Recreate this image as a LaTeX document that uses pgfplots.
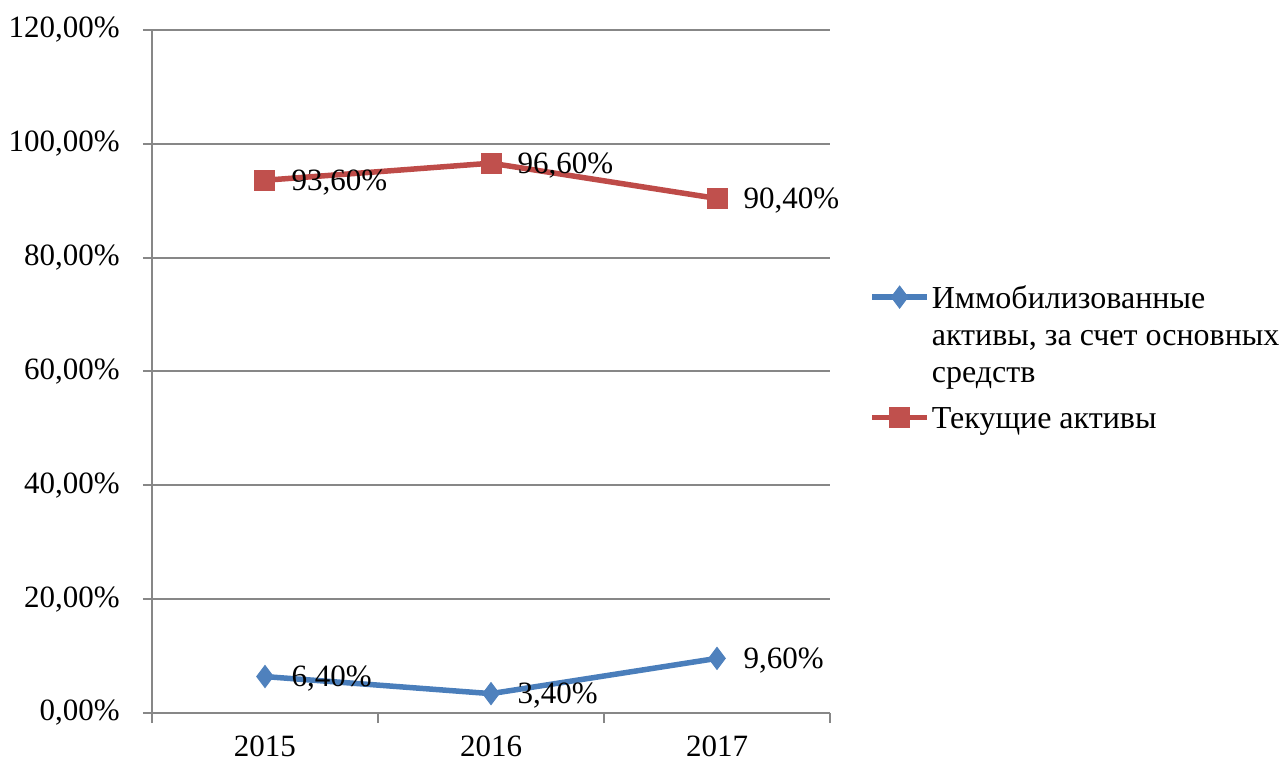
\documentclass[border=0pt]{standalone}
\usepackage{fontspec}
\setmainfont{Liberation Serif}
\usepackage{pgfplots}
\pgfplotsset{compat=1.18}

\definecolor{serblue}{HTML}{4A7EBB}
\definecolor{markblue}{HTML}{4F81BD}
\definecolor{serred}{HTML}{BE4B48}
\definecolor{markred}{HTML}{C0504D}
\definecolor{gridgray}{HTML}{878787}

\newcommand{\chartfont}{\fontsize{15.5bp}{18.5bp}\selectfont}
\newcommand{\legendfont}{\fontsize{16bp}{18.6bp}\selectfont}

\begin{document}
\begin{tikzpicture}
\begin{axis}[
  at={(0,0)}, anchor=south west,
  scale only axis, width=339bp, height=341.5bp,
  xmin=-0.5, xmax=2.5, ymin=0, ymax=120,
  xtick={0,1,2}, xticklabels={2015,2016,2017},
  minor xtick={-0.5,0.5,1.5,2.5},
  ytick={0,20,40,60,80,100,120},
  yticklabels={{0,00\%},{20,00\%},{40,00\%},{60,00\%},{80,00\%},{100,00\%},{120,00\%}},
  xtick pos=bottom, ytick pos=left,
  axis x line*=bottom, axis y line*=left,
  axis line style={gridgray, line width=1bp, -},
  ymajorgrids, grid style={gridgray, line width=1bp},
  tick align=outside,
  major tick length=4.5bp, minor tick length=5bp,
  major x tick style={draw=none},
  minor x tick style={draw=gridgray, line width=1bp},
  major y tick style={draw=gridgray, line width=1bp},
  tick label style={font=\chartfont},
  yticklabel style={inner sep=0pt, anchor=east, xshift=-11.5bp},
  xticklabel style={inner sep=0pt, anchor=north, yshift=-6.5bp},
  /pgf/number format/assume math mode=true,
  nodes near coords={\pgfmathprintnumber[fixed,fixed zerofill,precision=2,use comma]{\pgfplotspointmeta}\%},
  every node near coord/.append style={font=\chartfont, anchor=west, inner sep=0pt, xshift=13bp, yshift=-1bp, text=black},
  legend cell align=left,
  legend style={draw=none, fill=none, inner sep=0pt, at={(1.0575,0.6315)}, anchor=north west,
    row sep=7bp, column sep=1bp, cells={anchor=base west},
    nodes={inner sep=0pt, text depth={}}, font=\legendfont},
  legend image code/.code={\draw[mark repeat=2,mark phase=2] plot coordinates {(0bp,5.5bp)(13.75bp,5.5bp)(27.5bp,5.5bp)};},
]
\addplot[serblue, line width=2.75bp, mark=diamond*, mark size=5.5bp,
  mark options={fill=markblue, draw=markblue, line width=0.5bp}]
  coordinates {(0,6.4) (1,3.4) (2,9.6)};
\addlegendentry{\begin{tabular}[t]{@{}l@{}}Иммобилизованные\\активы, за счет основных\\средств\end{tabular}}
\addplot[serred, line width=2.75bp, mark=square*, mark size=5bp,
  mark options={fill=markred, draw=markred, line width=0.5bp}]
  coordinates {(0,93.6) (1,96.6) (2,90.4)};
\addlegendentry{Текущие активы}
\end{axis}
\pgfresetboundingbox
\path[use as bounding box] (-76bp,-26bp) rectangle (564.5bp,356.5bp);
\end{tikzpicture}
\end{document}
